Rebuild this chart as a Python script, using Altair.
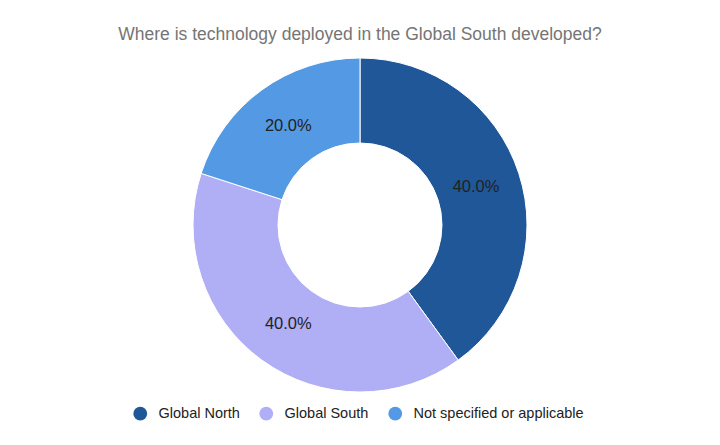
import altair as alt
import pandas as pd

title_text = "Where is technology deployed in the Global South developed?"
categories = ["Global North", "Global South", "Not specified or applicable"]
values = [40.0, 40.0, 20.0]
labels = ["40.0%", "40.0%", "20.0%"]
colors = ["#1f5799", "#b0aef5", "#5499e3"]

df = pd.DataFrame({"category": categories, "value": values, "label": labels,
                   "order": list(range(len(categories)))})

TOP = 48
CX, CY = 360, 225 - TOP

base = alt.Chart(df).encode(
    theta=alt.Theta("value:Q", stack=True),
    order=alt.Order("order:Q"),
)

arcs = base.mark_arc(outerRadius=167, innerRadius=82, stroke="white", strokeWidth=1).encode(
    x=alt.value(CX), y=alt.value(CY),
    color=alt.Color("category:N",
                    scale=alt.Scale(domain=categories, range=colors),
                    sort=categories,
                    legend=alt.Legend(title=None, orient="none", direction="horizontal",
                                      legendX=133, legendY=406 - TOP,
                                      symbolType="circle", symbolSize=190,
                                      symbolStrokeWidth=0,
                                      labelFont="Liberation Sans", labelFontSize=14.5,
                                      labelColor="#222222", labelOffset=11, labelLimit=0,
                                      columnPadding=19, padding=0)),
)

text = base.mark_text(radius=122, font="Liberation Sans", fontSize=16.5, color="#222222").encode(
    x=alt.value(CX), y=alt.value(CY),
    text="label:N",
)

chart = alt.layer(arcs, text).properties(
    width=720, height=445 - TOP,
    padding={"left": 0, "right": 0, "top": TOP, "bottom": 0},
    autosize=alt.AutoSizeParams(type="none"),
    title=alt.TitleParams(text=title_text, anchor="middle", font="Liberation Sans",
                          fontSize=17.5, fontWeight="normal", color="#757575", offset=5),
).configure_view(stroke=None)

chart.save("out.html", embed_options={"renderer": "svg", "actions": False})
